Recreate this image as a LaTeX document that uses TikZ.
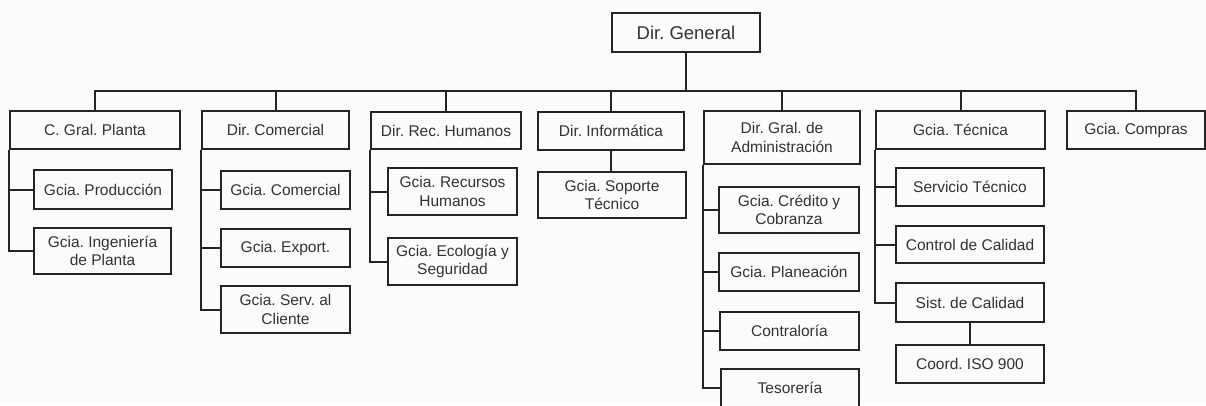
\documentclass[tikz,border=0pt]{standalone}
\usepackage{fontspec}
\setmainfont{Liberation Sans}
\frenchspacing
\definecolor{linec}{RGB}{35,37,37}
\definecolor{textc}{RGB}{50,52,52}
\definecolor{bgc}{RGB}{250,252,252}
\begin{document}
\begin{tikzpicture}[x=1pt,y=-1pt,
  box/.style={draw=linec, line width=2pt, fill=bgc, inner sep=0pt, align=center,
    font=\fontsize{15.5}{18.5}\selectfont, text=textc},
  conn/.style={draw=linec, line width=2pt}]
\useasboundingbox (0,0) rectangle (1206,405);
\clip (0,0) rectangle (1206,405);
\fill[bgc] (0,0) rectangle (1206,405);

% top
\node[box, minimum width=148pt, minimum height=39pt, font=\fontsize{18.5}{21}\selectfont] (dg) at (686,32.5) {Dir. General};
\coordinate (bar) at (686,91);

% level 1
\node[box, minimum width=170pt, minimum height=38pt] (cgp) at (95,130) {C. Gral. Planta};
\node[box, minimum width=147pt, minimum height=38pt] (dco) at (275.5,130) {Dir. Comercial};
\node[box, minimum width=150pt, minimum height=37pt] (drh) at (446,130.5) {Dir. Rec. Humanos};
\node[box, minimum width=146pt, minimum height=38pt] (din) at (611,131) {Dir. Inform\'atica};
\node[box, minimum width=156pt, minimum height=53pt] (dad) at (782,137.5) {Dir. Gral. de\\Administraci\'on};
\node[box, minimum width=169pt, minimum height=38pt] (gte) at (960.5,130) {Gcia. T\'ecnica};
\node[box, minimum width=138pt, minimum height=38pt] (gco) at (1136,130) {Gcia. Compras};

% C. Gral. Planta
\node[box, minimum width=138pt, minimum height=39pt] (prod) at (103,189.5) {Gcia. Producci\'on};
\node[box, minimum width=137pt, minimum height=46pt] (ing) at (102.5,251) {Gcia. Ingenier\'ia\\de Planta};

% Dir. Comercial
\node[box, minimum width=129pt, minimum height=38pt] (gcom) at (285.5,190) {Gcia. Comercial};
\node[box, minimum width=129pt, minimum height=38pt] (gexp) at (285.5,248) {Gcia. Export.};
\node[box, minimum width=129pt, minimum height=47pt] (gser) at (285.5,309.5) {Gcia. Serv. al\\Cliente};

% Dir. Rec. Humanos
\node[box, minimum width=129pt, minimum height=47pt] (grh) at (452.5,191.5) {Gcia. Recursos\\Humanos};
\node[box, minimum width=129pt, minimum height=47pt] (geco) at (452.5,261.5) {Gcia. Ecolog\'ia y\\Seguridad};

% Dir. Informatica
\node[box, minimum width=148pt, minimum height=46pt] (gsop) at (612,195) {Gcia. Soporte\\T\'ecnico};

% Dir. Gral. de Administracion
\node[box, minimum width=140pt, minimum height=46pt] (gcre) at (789,210) {Gcia. Cr\'edito y\\Cobranza};
\node[box, minimum width=140pt, minimum height=38pt] (gpla) at (789,272) {Gcia. Planeaci\'on};
\node[box, minimum width=139pt, minimum height=38pt] (cont) at (789.5,331) {Contralor\'ia};
\node[box, minimum width=138pt, minimum height=38pt] (teso) at (790,388) {Tesorer\'ia};

% Gcia. Tecnica
\node[box, minimum width=148pt, minimum height=38pt] (stec) at (970,187) {Servicio T\'ecnico};
\node[box, minimum width=148pt, minimum height=37pt] (ccal) at (970,244.5) {Control de Calidad};
\node[box, minimum width=148pt, minimum height=39pt] (scal) at (970,302.5) {Sist. de Calidad};
\node[box, minimum width=148pt, minimum height=38pt] (iso) at (970,364) {Coord. ISO 900};

% connectors from top
\draw[conn] (dg.south) -- (bar);
\foreach \n in {cgp,dco,drh,din,dad,gte,gco}
  \draw[conn] (bar) -| (\n.north);

% spines
\foreach \n in {prod,ing} \draw[conn] (cgp.south west) |- (\n.west);
\foreach \n in {gcom,gexp,gser} \draw[conn] (dco.south west) |- (\n.west);
\foreach \n in {grh,geco} \draw[conn] (drh.south west) |- (\n.west);
\foreach \n in {gcre,gpla,cont,teso} \draw[conn] (dad.south west) |- (\n.west);
\foreach \n in {stec,ccal,scal} \draw[conn] (gte.south west) |- (\n.west);
\draw[conn] (din.south) -- (din.south |- gsop.north);
\draw[conn] (scal.south) -- (iso.north);
\end{tikzpicture}
\end{document}
